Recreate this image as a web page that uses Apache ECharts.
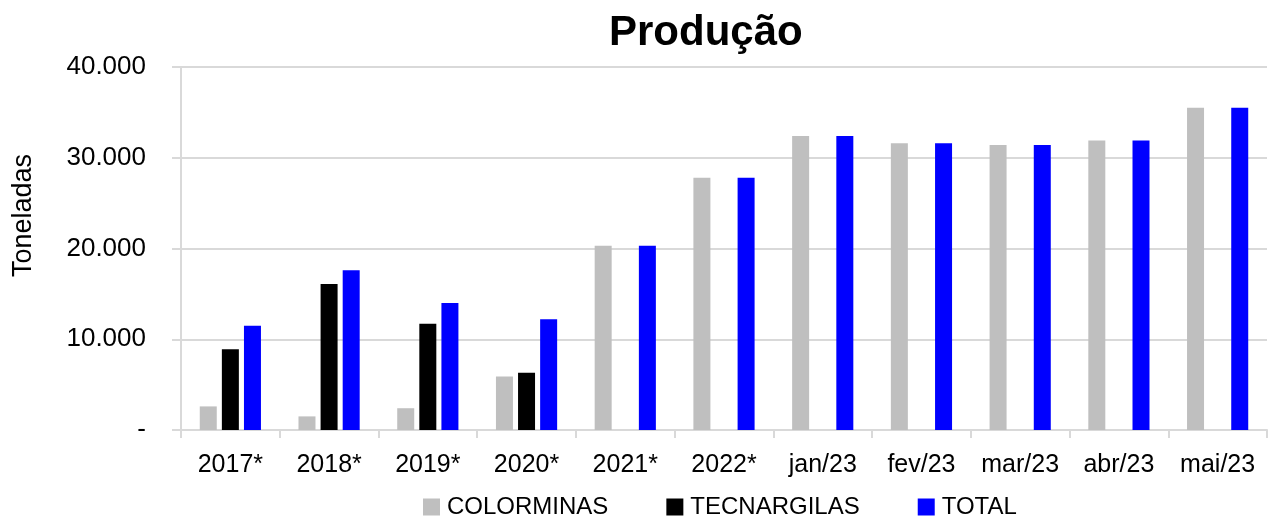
<!DOCTYPE html>
<html>
<head>
<meta charset="utf-8">
<script src="https://cdn.jsdelivr.net/npm/echarts@6/dist/echarts.min.js"></script>
<style>
  html, body { margin: 0; padding: 0; background: #fff; }
  #chart { width: 1271px; height: 516px; }
</style>
</head>
<body>
<div id="chart"></div>
<script>
var categories = ['2017*', '2018*', '2019*', '2020*', '2021*', '2022*', 'jan/23', 'fev/23', 'mar/23', 'abr/23', 'mai/23'];
var colorminas = [2600, 1500, 2400, 5900, 20300, 27800, 32400, 31600, 31400, 31900, 35500];
var tecnargilas = [8900, 16100, 11700, 6300, 0, 0, 0, 0, 0, 0, 0];
var total = [11500, 17600, 14000, 12200, 20300, 27800, 32400, 31600, 31400, 31900, 35500];
var yTicks = [0, 10000, 20000, 30000, 40000];

var fontFam = 'Liberation Sans';

// formato pt-BR: 10.000, zero vira "-"
function fmt(v) {
    if (v == 0) return '-';
    return String(v).replace(/\B(?=(\d{3})+(?!\d))/g, '.');
}

var myChart = echarts.init(document.getElementById('chart'));
var option = {
    backgroundColor: '#ffffff',
    animation: false,
    textStyle: { fontFamily: fontFam },
    title: {
        text: 'Produção',
        left: 604,
        top: 7,
        textStyle: { fontSize: 42, fontWeight: 'bold', color: '#000', fontFamily: fontFam }
    },
    legend: {
        left: 418,
        top: 490,
        itemWidth: 17,
        itemHeight: 17,
        itemGap: 58,
        icon: 'rect',
        textStyle: { fontSize: 24, color: '#000', padding: [0, 0, 0, 2] },
        data: ['COLORMINAS', 'TECNARGILAS', 'TOTAL']
    },
    grid: { left: 181, right: 4, top: 67, bottom: 86, containLabel: false },
    xAxis: {
        type: 'category',
        data: categories,
        axisLine: { lineStyle: { color: '#d9d9d9', width: 2 } },
        axisTick: { show: true, interval: 0, length: 8, lineStyle: { color: '#d9d9d9', width: 2 } },
        axisLabel: { interval: 0, fontSize: 25, color: '#000', margin: 23 }
    },
    yAxis: {
        type: 'value',
        min: yTicks[0],
        max: yTicks[yTicks.length - 1],
        interval: 10000,
        name: 'Toneladas',
        nameLocation: 'middle',
        nameGap: 144,
        nameRotate: 90,
        nameTextStyle: { fontSize: 27, color: '#000', padding: [0, 0, 0, 66] },
        axisLine: { show: true, lineStyle: { color: '#d9d9d9', width: 2 } },
        axisTick: { show: true, length: 9, lineStyle: { color: '#d9d9d9', width: 2 } },
        splitLine: { lineStyle: { color: '#d9d9d9', width: 2 } },
        axisLabel: { fontSize: 26, color: '#000', margin: 35, formatter: fmt }
    },
    series: [
        { name: 'COLORMINAS', type: 'bar', barWidth: 17, barGap: '30%', itemStyle: { color: '#bfbfbf' }, data: colorminas },
        { name: 'TECNARGILAS', type: 'bar', barWidth: 17, barGap: '30%', itemStyle: { color: '#000000' }, data: tecnargilas },
        { name: 'TOTAL', type: 'bar', barWidth: 17, barGap: '30%', itemStyle: { color: '#0000ff' }, data: total }
    ]
};
myChart.setOption(option);
</script>
</body>
</html>
